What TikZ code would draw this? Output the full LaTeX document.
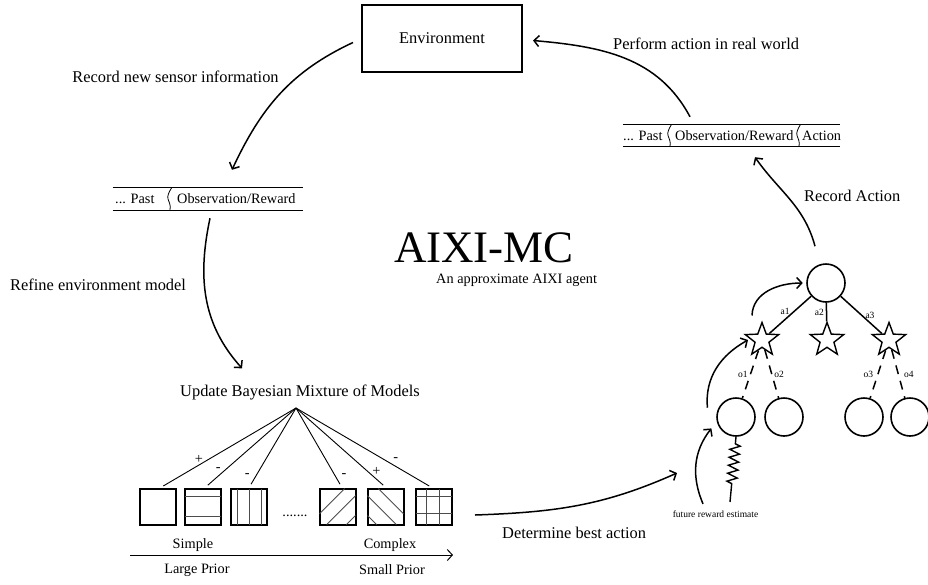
\documentclass[tikz,border=0pt]{standalone}
\usepackage{fontspec}
\setmainfont{Liberation Serif}
\usetikzlibrary{arrows.meta,shapes.geometric,decorations.pathmorphing}

\begin{document}
\begin{tikzpicture}[x=1pt,y=1pt,
	every node/.style={inner sep=0pt},
	lbl/.style={font=\fontsize{16.4}{19}\selectfont},
	txt/.style={font=\fontsize{14.3}{17}\selectfont},
	tiny/.style={font=\fontsize{9.5}{11}\selectfont},
	arr/.style={line width=1.5pt,-{Straight Barb[length=5pt,width=11pt]}},
	bar/.style={minimum height=22pt},
	barline/.style={line width=1.3pt},
	model/.style={draw,line width=2pt,minimum size=36pt,outer sep=0pt},
	fan/.style={line width=0.9pt,shorten >=5pt},
	pat/.style={line width=0.9pt,black!70},
	state/.style={draw,circle,line width=1.6pt,minimum size=38pt},
	act/.style={draw,star,star points=5,star point ratio=2.4,minimum size=35pt,line width=1.4pt},
	tl/.style={line width=1.5pt},
	obs/.style={line width=1.5pt,dash pattern=on 9pt off 7pt},
	brk/.pic={\draw[line width=0.8pt] (1.5,11) .. controls (-1,7) and (-3,3) .. (-2,0) .. controls (-1,-3) and (1,-6) .. (0,-11);}]
	\useasboundingbox (0,0) rectangle (928,-584);

	% environment and title
	\node[draw,line width=1.7pt,minimum width=160pt,minimum height=67pt,outer sep=9pt,lbl] (env) at (442,-38.5) {Environment};
	\node[font=\fontsize{45}{50}\selectfont,anchor=base] (title) at (484,-262) {AIXI-MC};
	\node[txt,anchor=base west] (sub) at (436,-283) {An approximate AIXI agent};

	% history bars
	\node[bar,minimum width=190pt] (lbar) at (208,-199) {};
	\draw[barline] (lbar.north west) -- (lbar.north east) (lbar.south west) -- (lbar.south east);
	\node[txt,anchor=west] (lpast) at (115,-199) {... Past};
	\pic at (170,-199) {brk};
	\node[txt,anchor=west] (lobs) at (177,-199) {Observation/Reward};

	\node[bar,minimum width=217pt,minimum height=21pt] (rbar) at (731.5,-135.5) {};
	\draw[barline] (rbar.north west) -- (rbar.north east) (rbar.south west) -- (rbar.south east);
	\node[txt,anchor=west] (rpast) at (623,-135.5) {... Past};
	\pic at (670,-135.5) {brk};
	\node[txt,anchor=west] (robs) at (675,-135.5) {Observation/Reward};
	\pic at (799,-135.5) {brk};
	\node[txt,anchor=west] (ract) at (802,-135.5) {Action};

	% loop labels
	\node[lbl] (sense) at (175.5,-77) {Record new sensor information};
	\node[lbl,anchor=west] (perform) at (613,-44) {Perform action in real world};
	\node[lbl,anchor=west] (refine) at (10,-285) {Refine environment model};
	\node[lbl,anchor=west] (recact) at (804,-196) {Record Action};
	\node[lbl,anchor=west] (best) at (502,-533) {Determine best action};

	% mixture of models
	\node[lbl] (upd) at (300,-392) {Update Bayesian Mixture of Models};
	\coordinate (apex) at (296,-408);
	\node[model] (m1) at (157.5,-506.5) {};
	\node[model] (m2) at (202.5,-506.5) {};
	\node[model] (m3) at (248.5,-506.5) {};
	\node[txt] (dots) at (295,-516) {.......};
	\node[model] (m4) at (337.5,-506.5) {};
	\node[model] (m5) at (385.5,-506.5) {};
	\node[model] (m6) at (433.5,-506.5) {};
	\begin{scope}[shift={(m2.south west)},x=36pt,y=36pt]
		\draw[pat] (0,0.78) -- (1,0.78) (0,0.22) -- (1,0.22);
	\end{scope}
	\begin{scope}[shift={(m3.south west)},x=36pt,y=36pt]
		\draw[pat] (0.18,0) -- (0.18,1) (0.52,0) -- (0.52,1) (0.86,0) -- (0.86,1);
	\end{scope}
	\begin{scope}[shift={(m4.south west)},x=36pt,y=36pt]
		\draw[pat] (0,0.3) -- (0.7,1) (0.2,0) -- (1,0.8) (0.75,0) -- (1,0.25);
	\end{scope}
	\begin{scope}[shift={(m5.south west)},x=36pt,y=36pt]
		\draw[pat] (0,0.25) -- (0.25,0) (0,0.8) -- (0.8,0) (0.3,1) -- (1,0.3);
	\end{scope}
	\begin{scope}[shift={(m6.south west)},x=36pt,y=36pt]
		\draw[pat] (0.3,0) -- (0.3,1) (0.67,0) -- (0.67,1) (0,0.3) -- (1,0.3) (0,0.78) -- (1,0.78);
	\end{scope}
	\draw[fan] (apex) -- ([xshift=1.5pt]m1.north) node[txt,pos=0.64,left=5pt] {+};
	\draw[fan] (apex) -- ([xshift=1.5pt]m2.north) node[txt,pos=0.77,left=4pt] {-};
	\draw[fan] (apex) -- (m3.north) node[txt,pos=0.84,left=6pt] {-};
	\draw[fan] (apex) -- ([xshift=5pt]m4.north) node[txt,pos=0.84,right=6pt] {-};
	\draw[fan] (apex) -- ([xshift=1.5pt]m5.north) node[txt,pos=0.79,right=4pt] {+};
	\draw[fan] (apex) -- (m6.north) node[txt,pos=0.64,right=9pt] {-};

	% complexity axis
	\coordinate (axl) at (130,-555);
	\coordinate (axr) at (453,-555);
	\draw[line width=1pt,-{Straight Barb[length=5pt,width=11pt]}] (axl) -- (axr);
	\node[txt] (simple) at (193,-545) {Simple};
	\node[txt] (complex) at (390,-545) {Complex};
	\node[txt] (large) at (197,-570) {Large Prior};
	\node[txt] (smallp) at (392,-570) {Small Prior};

	% search tree
	\node[state] (root) at (826,-283) {};
	\node[act] (s1) at (762,-340) {};
	\node[act] (s2) at (827,-340) {};
	\node[act] (s3) at (889,-340) {};
	\node[state] (o1) at (736,-417) {};
	\node[state] (o2) at (784,-417) {};
	\node[state] (o3) at (864,-417) {};
	\node[state] (o4) at (910,-417) {};
	\draw[tl] (root) -- (s1) node[tiny,midway,above left=0pt] {a1};
	\draw[tl] (root) -- (s2) node[tiny,midway,left=2pt] {a2};
	\draw[tl] (root) -- (s3) node[tiny,midway,right=3.5pt] {a3};
	\draw[obs] (s1) -- (o1) node[tiny,midway,left=2pt] {o1};
	\draw[obs] (s1) -- (o2) node[tiny,midway,right=2pt] {o2};
	\draw[obs] (s3) -- (o3) node[tiny,midway,left=4pt] {o3};
	\draw[obs] (s3) -- (o4) node[tiny,midway,right=5pt] {o4};
	\node[tiny] (fre) at (715.5,-514) {future reward estimate};
	\coordinate (zz) at (730,-502);
	\draw[line width=1.4pt,decorate,decoration={zigzag,segment length=8pt,amplitude=5pt,pre length=7pt,post length=16pt}] (o1.south) -- (zz);
	\coordinate (treein) at (677,-473);

	% cycle arrows
	\draw[arr] ([yshift=-4pt]env.west) to[out=205,in=65] ([xshift=24pt,yshift=18pt]lbar.north);
	\draw[arr] ([xshift=2pt,yshift=-8pt]lbar.south) to[out=258,in=132] ([xshift=-58pt,yshift=16pt]upd.north);
	\draw[arr] ([xshift=23.5pt,yshift=-8.5pt]m6.east) to[out=2,in=204] (treein);
	\draw[arr] ([xshift=-12.5pt,yshift=6.5pt]fre.north) to[out=113,in=232] ([xshift=-7.5pt,yshift=-1.5pt]o1.210);
	\draw[arr] ([xshift=-10pt,yshift=2.5pt]o1.160) to[out=95,in=209] ([xshift=-14pt]s1.center);
	\draw[arr] ([xshift=-10pt,yshift=5pt]s1.north) to[out=88,in=180] ([xshift=-3.5pt]root.west);
	\draw[arr] ([xshift=-11pt,yshift=17pt]root.north) to[out=105,in=-55] ([xshift=23.5pt,yshift=-11pt]rbar.south);
	\draw[arr] ([xshift=-41.5pt,yshift=8pt]rbar.north) to[out=118,in=-5] ([xshift=2pt,yshift=-2pt]env.east);
\end{tikzpicture}
\end{document}
